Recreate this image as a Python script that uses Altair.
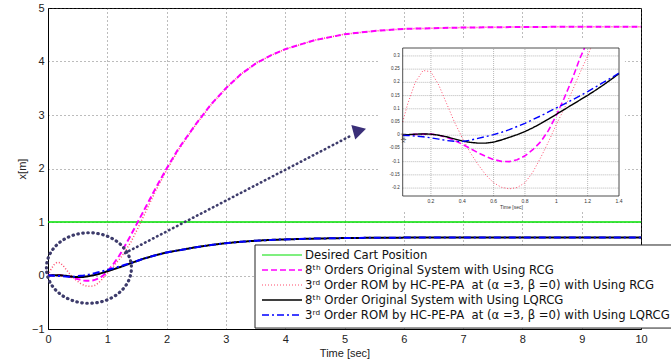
import altair as alt
import pandas as pd

# ---------------- main plot data ----------------
t_main = [0, 0.05, 0.1, 0.15, 0.2, 0.25, 0.3, 0.35, 0.4, 0.45, 0.5, 0.55, 0.6, 0.65, 0.7,
          0.75, 0.8, 0.85, 0.9, 0.95, 1.0, 1.05, 1.1, 1.15, 1.2, 1.25, 1.3, 1.35, 1.4,
          1.5, 1.6, 1.8, 2.0, 2.2, 2.5, 2.75, 3.0, 3.25, 3.5, 3.75, 4.0, 4.5, 5.0, 5.5,
          6.0, 7.0, 8.0, 9.0, 10.0]

desired_t = [0, 10]
desired_y = [1, 1]

rcg_8th = [0, 0.001, 0.003, 0.004, 0.004, 0.0, -0.008, -0.02, -0.034, -0.05, -0.066, -0.08,
           -0.092, -0.099, -0.1, -0.093, -0.078, -0.055, -0.025, 0.018, 0.075, 0.14, 0.21,
           0.29, 0.37, 0.46, 0.56, 0.66, 0.76,
           0.97, 1.18, 1.6, 2.0, 2.37, 2.84, 3.2, 3.5, 3.76, 3.96, 4.11, 4.23, 4.4, 4.51,
           4.57, 4.61, 4.635, 4.645, 4.65, 4.65]

rcg_3rd = [0, 0.115, 0.2, 0.245, 0.24, 0.19, 0.12, 0.05, -0.01, -0.065, -0.11, -0.15,
           -0.18, -0.197, -0.203, -0.198, -0.18, -0.14, -0.085, -0.025, 0.04, 0.1, 0.165,
           0.235, 0.3, 0.37, 0.45, 0.54, 0.63,
           0.85, 1.08, 1.55, 1.97, 2.35, 2.83, 3.19, 3.5, 3.76, 3.96, 4.11, 4.23, 4.4, 4.51,
           4.57, 4.61, 4.635, 4.645, 4.65, 4.65]

lqrcg_8th = [0, 0.002, 0.004, 0.005, 0.004, 0.0, -0.006, -0.014, -0.022, -0.027, -0.03,
             -0.03, -0.026, -0.018, -0.008, 0.002, 0.014, 0.028, 0.044, 0.061, 0.079, 0.097,
             0.115, 0.133, 0.151, 0.17, 0.19, 0.211, 0.233,
             0.27, 0.31, 0.375, 0.43, 0.47, 0.53, 0.57, 0.605, 0.63, 0.65, 0.665, 0.675,
             0.69, 0.70, 0.705, 0.708, 0.71, 0.71, 0.71, 0.71]

lqrcg_3rd = [0, -0.001, -0.003, -0.006, -0.01, -0.015, -0.02, -0.023, -0.024, -0.019, -0.012,
             -0.005, 0.002, 0.011, 0.021, 0.033, 0.045, 0.059, 0.073, 0.088, 0.103, 0.118,
             0.133, 0.149, 0.165, 0.182, 0.2, 0.217, 0.235,
             0.272, 0.31, 0.375, 0.43, 0.47, 0.53, 0.57, 0.605, 0.63, 0.65, 0.665, 0.675,
             0.69, 0.70, 0.705, 0.708, 0.71, 0.71, 0.71, 0.71]

# ---------------- inset (zoom) data ----------------
inset_t = [0.02] + t_main[1:29]
inset_black = [0.001] + lqrcg_8th[1:29]
inset_blue = [-0.0005] + lqrcg_3rd[1:29]
inset_mag_t = [0.02] + t_main[1:24] + [1.18]
inset_mag = [0.0] + rcg_8th[1:24] + [0.33]
inset_pink_t = [0.02] + t_main[1:25] + [1.22]
inset_pink = [0.05] + rcg_3rd[1:25] + [0.33]

inset_xticks = [0.2, 0.4, 0.6, 0.8, 1.0, 1.2, 1.4]
inset_xlabels = ["0.2", "0.4", "0.6", "0.8", "1", "1.2", "1.4"]
inset_yticks = [-0.2, -0.15, -0.1, -0.05, 0, 0.05, 0.1, 0.15, 0.2, 0.25, 0.3]
inset_ylabels = ["-0.2", "-0.15", "-0.1", "-0.05", "0", "0.05", "0.1", "0.15", "0.2", "0.25", "0.3"]

# ---------------- annotations ----------------
circle_center = [0.69, 0.14]
arrow_t = [1.3, 5.12]
arrow_y = [0.42, 2.62]
arrow_head = [5.21, 2.66]

NB = "\u00a0"
legend_labels = [
    "Desired Cart Position",
    "8ᵗʰ Orders Original System with Using RCG",
    "3ʳᵈ Order ROM by HC-PE-PA" + NB + " at (α =3, β =0) with Using RCG",
    "8ᵗʰ Order Original System with Using LQRCG",
    "3ʳᵈ Order ROM by HC-PE-PA" + NB + " at (α =3, β =0) with Using LQRCG",
]
colors = ["#00e000", "#ff00ff", "#ff4d6d", "#000000", "#0000ff"]
dashes = [[1, 0], [6, 3], [1, 2], [1, 0], [7, 3, 2, 3]]
widths = [1.5, 2.0, 1.5, 2.0, 2.0]

FONT = "Liberation Sans"
LFONT = "DejaVu Sans"

# ---------------- main layers ----------------
xs_main = alt.Scale(domain=[0, 10], nice=False, zero=False)
ys_main = alt.Scale(domain=[-1, 5], nice=False, zero=False)
x_axis = alt.Axis(values=list(range(0, 11)), title="Time [sec]", grid=True, gridDash=[1, 3],
                  gridColor="#555555", gridWidth=0.8, ticks=False, labelFontSize=11,
                  titleFontSize=11, titleFontWeight="normal", domainColor="black",
                  labelColor="#222222", titleColor="#222222", labelPadding=4, titlePadding=3,
                  labelFont=FONT, titleFont=FONT, labelFlush=False)
y_axis = alt.Axis(values=list(range(-1, 6)), title="x[m]", grid=True, gridDash=[1, 3],
                  gridColor="#555555", gridWidth=0.8, ticks=False, labelFontSize=11,
                  titleFontSize=11, titleFontWeight="normal", domainColor="black",
                  labelColor="#222222", titleColor="#222222", labelPadding=4, titlePadding=4,
                  labelFont=FONT, titleFont=FONT, labelFlush=False)


def main_line(t, v, i):
    df = pd.DataFrame({"t": t, "v": v})
    return alt.Chart(df).mark_line(color=colors[i], strokeWidth=widths[i],
                                   strokeDash=dashes[i]).encode(
        x=alt.X("t:Q", scale=xs_main, axis=x_axis),
        y=alt.Y("v:Q", scale=ys_main, axis=y_axis),
    )


main_layers = [
    main_line(desired_t, desired_y, 0),
    main_line(t_main, rcg_3rd, 2),
    main_line(t_main, rcg_8th, 1),
    main_line(t_main, lqrcg_8th, 3),
    main_line(t_main, lqrcg_3rd, 4),
]

ellipse_path = "M-1,0A1,0.83,0,1,1,1,0A1,0.83,0,1,1,-1,0Z"
circle = alt.Chart(pd.DataFrame({"t": [circle_center[0]], "v": [circle_center[1]]})).mark_point(
    shape=ellipse_path, size=7225, filled=False, color="#3d3b6b", strokeWidth=3.2,
    strokeDash=[0.5, 4.5], strokeCap="round", opacity=1).encode(
    x=alt.X("t:Q", scale=xs_main, axis=x_axis), y=alt.Y("v:Q", scale=ys_main, axis=y_axis))

arrow = alt.Chart(pd.DataFrame({"t": arrow_t, "v": arrow_y})).mark_line(
    color="#3d3b6b", strokeWidth=2.6, strokeDash=[0.5, 4], strokeCap="round").encode(
    x=alt.X("t:Q", scale=xs_main, axis=x_axis), y=alt.Y("v:Q", scale=ys_main, axis=y_axis))

head = alt.Chart(pd.DataFrame({"t": [arrow_head[0]], "v": [arrow_head[1]]})).mark_point(
    shape="triangle-down", filled=True, size=230, angle=15, color="#3a2f78", opacity=1).encode(
    x=alt.X("t:Q", scale=xs_main, axis=x_axis), y=alt.Y("v:Q", scale=ys_main, axis=y_axis))

main = alt.layer(*main_layers, circle, arrow, head)

# ---------------- inset layers ----------------
xs_in = alt.Scale(domain=[0.02, 1.4], range=[354.7, 571], nice=False, zero=False)
ys_in = alt.Scale(domain=[-0.23, 0.33], range=[188, 40], nice=False, zero=False)


def ix(f):
    return alt.X(f, scale=xs_in, axis=None)


def iy(f):
    return alt.Y(f, scale=ys_in, axis=None)


bg = alt.Chart(pd.DataFrame({"a": [-0.137], "b": [1.438], "c": [-0.29], "d": [0.36]})).mark_rect(
    fill="white").encode(x=ix("a:Q"), x2="b:Q", y=iy("c:Q"), y2="d:Q")

vgrid = alt.Chart(pd.DataFrame({"g": inset_xticks[:-1], "lo": -0.23, "hi": 0.33})).mark_rule(
    color="#888888", strokeDash=[1, 1], strokeWidth=0.6).encode(
    x=ix("g:Q"), y=iy("lo:Q"), y2="hi:Q")
hgrid = alt.Chart(pd.DataFrame({"g": inset_yticks, "lo": 0.02, "hi": 1.4})).mark_rule(
    color="#888888", strokeDash=[1, 1], strokeWidth=0.6).encode(
    y=iy("g:Q"), x=ix("lo:Q"), x2="hi:Q")

frame = alt.Chart(pd.DataFrame({"a": [0.02], "b": [1.4], "c": [-0.23], "d": [0.33]})).mark_rect(
    fillOpacity=0, stroke="#222222", strokeWidth=0.8).encode(
    x=ix("a:Q"), x2="b:Q", y=iy("c:Q"), y2="d:Q")


def inset_line(t, v, i, w):
    return alt.Chart(pd.DataFrame({"t": t, "v": v})).mark_line(
        color=colors[i], strokeWidth=w, strokeDash=dashes[i]).encode(x=ix("t:Q"), y=iy("v:Q"))


inset_lines = [
    inset_line(inset_pink_t, inset_pink, 2, 1.0),
    inset_line(inset_mag_t, inset_mag, 1, 1.6),
    inset_line(inset_t, inset_black, 3, 1.4),
    inset_line(inset_t, inset_blue, 4, 1.4),
]

xlab = alt.Chart(pd.DataFrame({"g": inset_xticks, "lab": inset_xlabels, "y": -0.23})).mark_text(
    fontSize=5, baseline="top", dy=3, font=FONT, color="#333333").encode(
    x=ix("g:Q"), y=iy("y:Q"), text="lab:N")
ylab = alt.Chart(pd.DataFrame({"g": inset_yticks, "lab": inset_ylabels, "x": 0.02})).mark_text(
    fontSize=4.5, align="right", baseline="middle", dx=-3, font=FONT, color="#333333").encode(
    y=iy("g:Q"), x=ix("x:Q"), text="lab:N")
xtitle = alt.Chart(pd.DataFrame({"x": [0.714], "y": [-0.23], "lab": ["Time [sec]"]})).mark_text(
    fontSize=5, baseline="top", dy=9, font=FONT, color="#333333").encode(
    x=ix("x:Q"), y=iy("y:Q"), text="lab:N")
ytitle = alt.Chart(pd.DataFrame({"x": [0.02], "y": [0.042], "lab": ["x[m]"]})).mark_text(
    fontSize=5, angle=270, dx=-14, font=FONT, color="#333333").encode(
    x=ix("x:Q"), y=iy("y:Q"), text="lab:N")

inset = alt.layer(bg, vgrid, hgrid, *inset_lines, frame, xlab, ylab, xtitle, ytitle)

# ---------------- legend layers ----------------
xs_lg = alt.Scale(domain=[0, 1], range=[214, 254], nice=False, zero=False)
ys_lg = alt.Scale(domain=[0, 4], range=[247, 307], nice=False, zero=False)

lg_box = alt.Chart(pd.DataFrame({"a": [-0.175], "b": [12], "c": [-0.667], "d": [4.87]})).mark_rect(
    fill="white", stroke="#222222", strokeWidth=1).encode(
    x=alt.X("a:Q", scale=xs_lg, axis=None), x2="b:Q",
    y=alt.Y("c:Q", scale=ys_lg, axis=None), y2="d:Q")

lg_samples = []
for i in range(5):
    lg_samples.append(
        alt.Chart(pd.DataFrame({"a": [0], "b": [1], "r": [i]})).mark_rule(
            color=colors[i], strokeWidth=widths[i] * 0.8, strokeDash=dashes[i]).encode(
            x=alt.X("a:Q", scale=xs_lg, axis=None), x2="b:Q",
            y=alt.Y("r:Q", scale=ys_lg, axis=None)))

lg_text = alt.Chart(pd.DataFrame({"x": [1] * 5, "r": list(range(5)), "lab": legend_labels})).mark_text(
    align="left", baseline="middle", dx=3, fontSize=11.7, font=LFONT, color="#111111").encode(
    x=alt.X("x:Q", scale=xs_lg, axis=None), y=alt.Y("r:Q", scale=ys_lg, axis=None), text="lab:N")

legend = alt.layer(lg_box, *lg_samples, lg_text)

chart = alt.layer(main, inset, legend).resolve_scale(
    x="independent", y="independent"
).properties(
    width=593, height=321,
    autosize=alt.AutoSizeParams(type="none"),
    padding={"left": 48, "top": 8, "right": 30, "bottom": 33},
    background="white",
).configure_view(stroke="black", strokeWidth=1)

chart.save("out.html", embed_options={"renderer": "svg", "actions": False})
